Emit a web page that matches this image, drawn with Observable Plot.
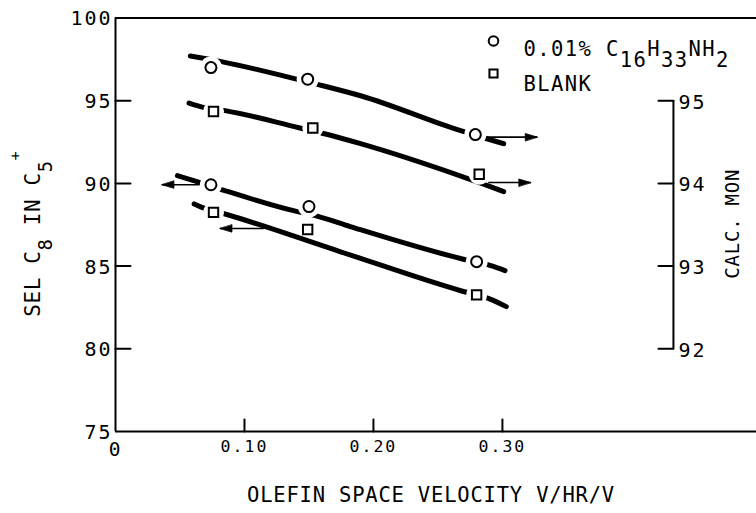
<!DOCTYPE html>
<html><head><meta charset="utf-8">
<script src="https://cdn.jsdelivr.net/npm/d3@7"></script>
<script src="https://cdn.jsdelivr.net/npm/@observablehq/plot@0.6"></script>
<style>
html,body{margin:0;padding:0;background:#fff;}
</style></head><body><div id="chart"></div>
<script>
// ---------------- data ----------------
const selTicks = [75, 80, 85, 90, 95, 100];        // left axis: SEL C8 IN C5+
const selInnerTicks = [80, 85, 90, 95];
const monTicks = [92, 93, 94, 95];                 // right axis: CALC. MON
const xTicks = [0.10, 0.20, 0.30];
const xTickLabels = ["0.10", "0.20", "0.30"];
const xOrigin = [0];
const xOriginLabel = ["0"];
const xMax = 0.497;        // frame extends to here
const monAxisV = 0.4326;   // V position of the CALC. MON axis

// measured points
const amineMonV = [0.074, 0.149, 0.279];
const amineMON  = [95.40, 95.26, 94.59];
const blankMonV = [0.076, 0.153, 0.282];
const blankMON  = [94.87, 94.67, 94.11];
const amineSelV = [0.074, 0.150, 0.280];
const amineSEL  = [89.92, 88.60, 85.27];
const blankSelV = [0.076, 0.149, 0.280];
const blankSEL  = [88.25, 87.21, 83.26];
// does the drawn curve break around each point?
const amineMonBreak = [true, true, true];
const blankMonBreak = [true, true, true];
const amineSelBreak = [true, true, true];
const blankSelBreak = [true, false, true];

// fitted curves
const amineMonCurveV = [0.058, 0.083, 0.138, 0.156, 0.190, 0.267, 0.288, 0.301];
const amineMonCurve  = [95.54, 95.47, 95.27, 95.20, 95.06, 94.64, 94.54, 94.48];
const blankMonCurveV = [0.057, 0.068, 0.085, 0.143, 0.162, 0.190, 0.271, 0.289, 0.301];
const blankMonCurve  = [94.97, 94.92, 94.88, 94.67, 94.60, 94.48, 94.07, 93.97, 93.90];
const amineSelCurveV = [0.048, 0.065, 0.081, 0.138, 0.155, 0.182, 0.269, 0.291, 0.302];
const amineSelCurve  = [90.47, 90.06, 89.66, 88.35, 88.05, 87.39, 85.43, 85.03, 84.73];
const blankSelCurveV = [0.061, 0.067, 0.085, 0.174, 0.269, 0.290, 0.303];
const blankSelCurve  = [88.76, 88.55, 88.15, 85.88, 83.48, 83.02, 82.55];

// axis-pointer arrows
const monArrowFrom = [0.288, 0.289];
const monArrowTo   = [0.327, 0.322];
const monArrowAt   = [94.56, 94.01];
const selArrowFrom = [0.065, 0.115];
const selArrowTo   = [0.036, 0.081];
const selArrowAt   = [89.92, 87.27];

const legendLabels = ["0.01% C_16H_33NH_2", "BLANK"];
const xTitle = ["OLEFIN SPACE VELOCITY V/HR/V"];
const yTitle = ["SEL C_8 IN C_5^+"];
const y2Title = ["CALC. MON"];

// ---------------- build ----------------
// right axis 92..95 is aligned with left axis 80..95
const monToSel = m => 80 + (m - 92) * 5;
const pts = (vs, ys, f = y => y, br) => vs.map((v, i) => ({v, y: f(ys[i]), br: br ? br[i] : true}));

const series = [
  {curve: pts(amineMonCurveV, amineMonCurve, monToSel), marks: pts(amineMonV, amineMON, monToSel, amineMonBreak), symbol: "circle"},
  {curve: pts(blankMonCurveV, blankMonCurve, monToSel), marks: pts(blankMonV, blankMON, monToSel, blankMonBreak), symbol: "square"},
  {curve: pts(amineSelCurveV, amineSelCurve), marks: pts(amineSelV, amineSEL, undefined, amineSelBreak), symbol: "circle"},
  {curve: pts(blankSelCurveV, blankSelCurve), marks: pts(blankSelV, blankSEL, undefined, blankSelBreak), symbol: "square"}
];
const arrows = [
  ...monArrowFrom.map((a, i) => ({a, b: monArrowTo[i], y: monToSel(monArrowAt[i]), dir: 90})),
  ...selArrowFrom.map((a, i) => ({a, b: selArrowTo[i], y: selArrowAt[i], dir: -90}))
];

const tickShape = {draw(ctx, l) { ctx.moveTo(0, 0); ctx.lineTo(0, -l); }};
const headShape = {draw(ctx, l, r) { ctx.moveTo(0, -l); ctx.lineTo(-r, 0); ctx.lineTo(r, 0); ctx.closePath(); }};

const marks = [
  // frame
  Plot.ruleY([75, 100], {strokeWidth: 2}),
  Plot.ruleX([0], {y1: 75, y2: 100, strokeWidth: 2}),
  Plot.vector(selInnerTicks, {y: d => d, frameAnchor: "left", length: 15, rotate: 90, anchor: "start", shape: tickShape, strokeWidth: 2}),
  Plot.vector(xTicks, {x: d => d, frameAnchor: "bottom", length: 12, rotate: 0, anchor: "start", shape: tickShape, strokeWidth: 2}),
  Plot.text(selTicks, {y: d => d, frameAnchor: "left", text: d => String(d), textAnchor: "end", dx: -3, dy: 1, fontSize: 20}),
  Plot.text(xTicks, {x: d => d, frameAnchor: "bottom", text: (d, i) => xTickLabels[i], textAnchor: "middle", dy: 20, fontSize: 16.5}),
  Plot.text(xOrigin, {x: d => d, frameAnchor: "bottom", text: (d, i) => xOriginLabel[i], textAnchor: "middle", dy: 24.5, fontSize: 19.5}),
  // right axis
  Plot.ruleX([monAxisV], {y1: monToSel(92), y2: monToSel(95), strokeWidth: 2}),
  Plot.vector(monTicks, {x: monAxisV, y: d => monToSel(d), length: 15, rotate: -90, anchor: "start", shape: tickShape, strokeWidth: 2}),
  Plot.text(monTicks, {x: monAxisV, y: d => monToSel(d), text: d => String(d), textAnchor: "start", dx: 5, dy: 1.5, fontSize: 20}),
  // titles
  Plot.text(xTitle, {frameAnchor: "bottom", text: d => d, textAnchor: "middle", dx: -5, dy: 70, fontSize: 20.5}),
  Plot.text(yTitle, {frameAnchor: "left", text: d => d, textAnchor: "middle", rotate: -90, dx: -82, dy: 9, fontSize: 21}),
  Plot.text(y2Title, {frameAnchor: "right", text: d => d, textAnchor: "middle", rotate: -90, dx: -24, dy: -1, fontSize: 19}),
  // legend
  Plot.dot([legendLabels[0]], {frameAnchor: "top-left", dx: 378, dy: 23, r: 4.8, symbol: "circle", stroke: "black", strokeWidth: 2, fill: "white"}),
  Plot.dot([legendLabels[1]], {frameAnchor: "top-left", dx: 378, dy: 55.5, r: 4.6, symbol: "square", stroke: "black", strokeWidth: 2, fill: "white"}),
  Plot.text([legendLabels[0]], {frameAnchor: "top-left", text: d => d, textAnchor: "start", dx: 408, dy: 23, fontSize: 20.5}),
  Plot.text([legendLabels[1]], {frameAnchor: "top-left", text: d => d, textAnchor: "start", dx: 408, dy: 58, fontSize: 20.5}),
  // curves, broken around the points
  ...series.map(s => Plot.line(s.curve, {x: "v", y: "y", strokeWidth: 5, curve: "monotone-x", strokeLinecap: "round", strokeLinejoin: "round"})),
  ...series.map(s => Plot.dot(s.marks.filter(d => d.br), {x: "v", y: "y", r: s.symbol === "circle" ? 11 : 10.5, fill: "white"})),
  ...series.map(s => Plot.dot(s.marks, {x: "v", y: "y", r: s.symbol === "circle" ? 5.5 : 5.3, symbol: s.symbol, stroke: "black", strokeWidth: 2, fill: "white"})),
  // arrows
  Plot.link(arrows, {x1: "a", x2: "b", y1: "y", y2: "y", strokeWidth: 1.6}),
  Plot.vector(arrows, {x: "b", y: "y", rotate: "dir", length: 12, r: 3.6, anchor: "end", shape: headShape, fill: "black", stroke: "black", strokeWidth: 0.8})
];

const chart = Plot.plot({
  width: 756, height: 513,
  marginLeft: 115, marginRight: 0, marginTop: 17.5, marginBottom: 82,
  x: {domain: [0, xMax], axis: null},
  y: {domain: [75, 100], axis: null},
  style: "font-family: 'DejaVu Sans Mono', 'Liberation Mono', monospace; letter-spacing: 2px; color: black; background: white; overflow: visible;",
  marks
});
document.getElementById("chart").appendChild(chart);

// chemical-formula subscripts / superscripts as real tspans
function chemify(el, subScale, subShift, supScale, supShift) {
  const s = el.textContent;
  const base = parseFloat(getComputedStyle(el).fontSize) || 20;
  el.textContent = "";
  const re = /_(\d+)|\^(\S)|([^_^]+)/g;
  let m, cur = 0;
  while ((m = re.exec(s))) {
    let txt, shift, size;
    if (m[1] !== undefined) { txt = m[1]; shift = subShift * base; size = subScale * base; }
    else if (m[2] !== undefined) { txt = m[2]; shift = -supShift * base; size = supScale * base; }
    else { txt = m[3]; shift = 0; size = base; }
    const t = document.createElementNS("http://www.w3.org/2000/svg", "tspan");
    t.setAttribute("dy", (shift - cur).toFixed(2));
    t.setAttribute("font-size", size.toFixed(2));
    t.textContent = txt;
    el.appendChild(t);
    cur = shift;
  }
}
chart.querySelectorAll("text").forEach(el => {
  const s = el.textContent;
  if (s === legendLabels[0]) { el.style.letterSpacing = "1.4px"; chemify(el, 1.0, 0.58, 1.0, 0.6); }
  else if (s === legendLabels[1]) el.style.letterSpacing = "1.4px";
  else if (s === yTitle[0]) { el.style.letterSpacing = "0.6px"; chemify(el, 0.9, 0.55, 0.7, 0.95); }
  else if (s === xTitle[0]) el.style.letterSpacing = "0.8px";
  else if (s === y2Title[0]) el.style.letterSpacing = "0.8px";
});
</script></body></html>
